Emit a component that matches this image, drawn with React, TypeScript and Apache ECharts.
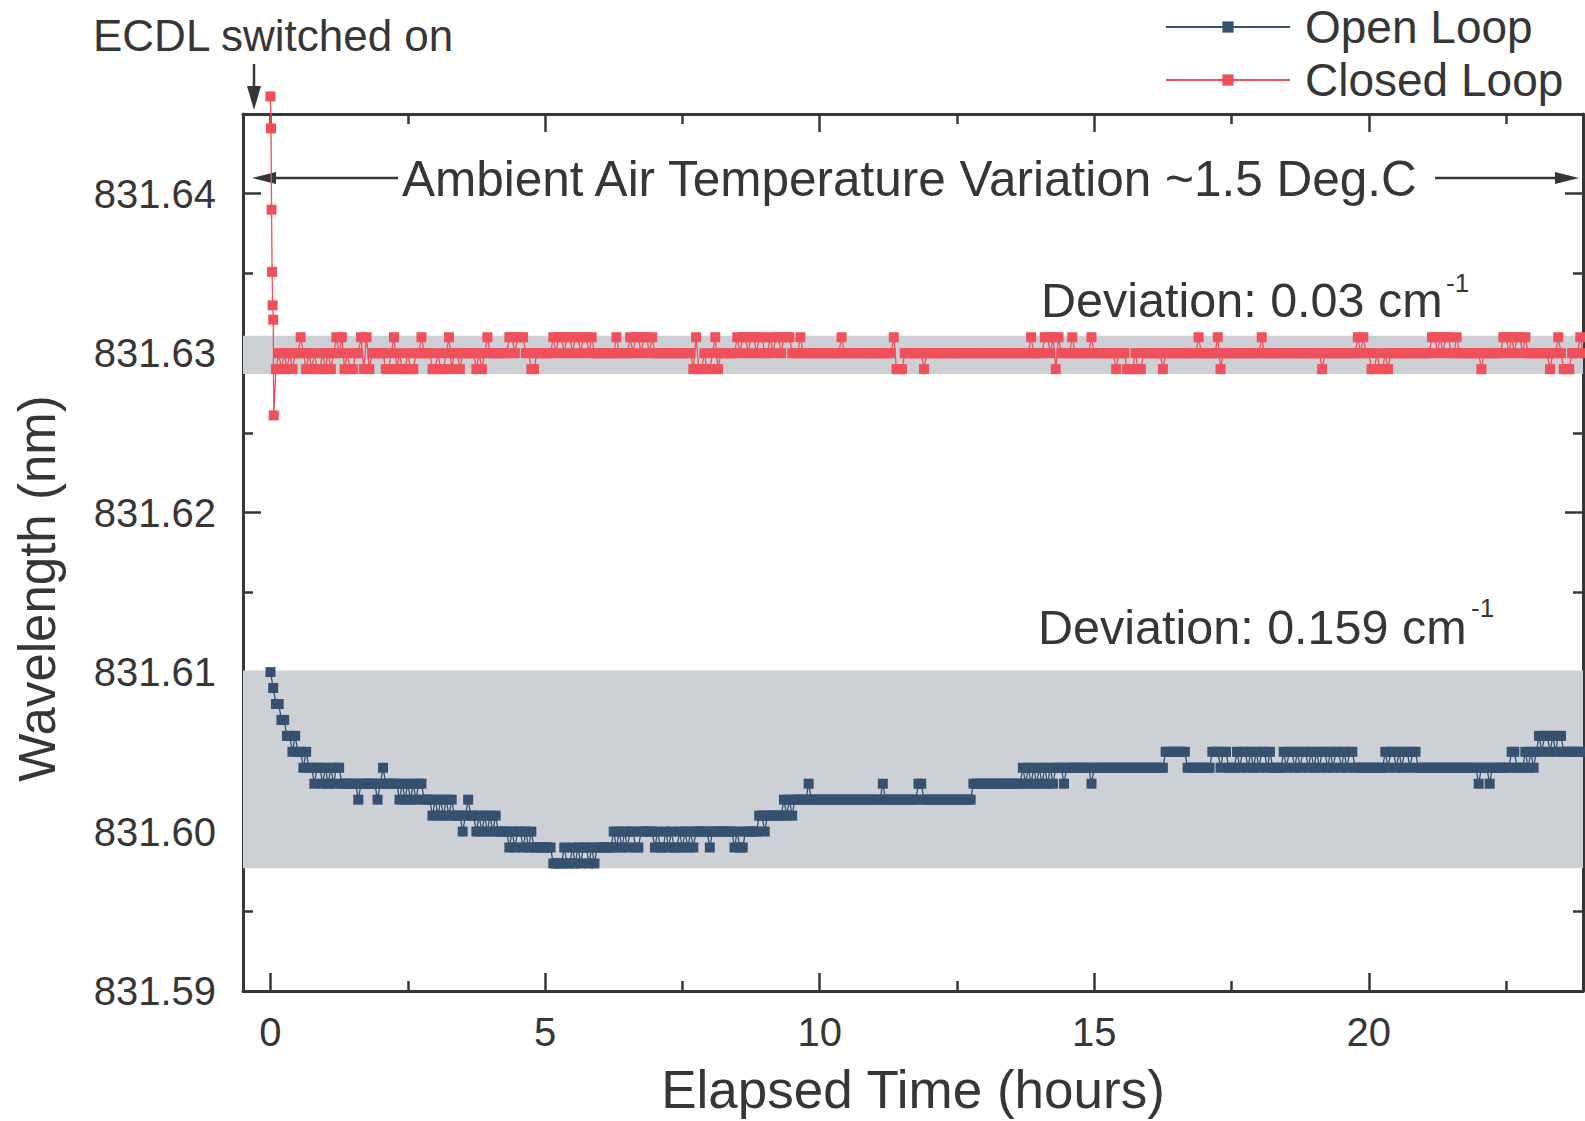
import React, { useEffect, useRef } from "react";
import * as echarts from "echarts";

// ---------- data ----------
const SAMPLE_STEP_H = 0.05; // one sample every 3 minutes
const X_MIN = -0.5;
const X_MAX = 23.9;
const Y_MIN = 831.59;
const Y_MAX = 831.645;

const xMajorTicks = [0, 5, 10, 15, 20];
const xMinorTicks = [2.5, 7.5, 12.5, 17.5, 22.5];
const yMajorTicks = [831.59, 831.6, 831.61, 831.62, 831.63, 831.64];
const yMinorTicks = [831.595, 831.605, 831.615, 831.625, 831.635];

// Open loop: one string per hour, one char per sample; hex digit = steps of 0.001 nm above 831.598
const OPEN_LOOP_BASE = 831.598;
const openLoopLevels = [
  "cbaa9988787767665665", // 0 h
  "65656655555545555554", // 1 h
  "56555554545454554443", // 2 h
  "43434343332343323232", // 3 h
  "32322221212212121111", // 4 h
  "11100001001010110101", // 5 h
  "11111212121221122222", // 6 h
  "12112121121212122222", // 7 h
  "12222222212112222233", // 8 h
  "23333334343444445444", // 9 h
  "44444444444444444444", // 10 h
  "44454444444444445544", // 11 h
  "44444444444444445555", // 12 h
  "55555555555555656565", // 13 h
  "65656566656666666665", // 14 h
  "66666666666666666666", // 15 h
  "66666677777777666666", // 16 h
  "66677767766676776767", // 17 h
  "67767666676776767767", // 18 h
  "67677676776767766666", // 19 h
  "66666676776767767766", // 20 h
  "66666666666666666666", // 21 h
  "56665666666677666767", // 22 h
  "6787887878877777777", // 23 h
];

// Closed loop: '0' = 831.630, '+' = 831.631, '-' = 831.629, '.' = no sample
const CLOSED_LOOP_BASE = 831.63;
const closedLoopTurnOn: [number, number][] = [
  [0.0, 831.6461],
  [0.01, 831.6441],
  [0.02, 831.639],
  [0.03, 831.6351],
  [0.04, 831.633],
  [0.05, 831.6321],
  [0.06, 831.6261],
];
const closedLoopLevels = [
  "..-0-0-0-00+0-0-0--0", // 0 h
  "-0-0+0+-0--00+-+-000", // 1 h
  "00--0+-0--0--00+000-", // 2 h
  "-0--0+-00-00000-0-0+", // 3 h
  "0000000++0+++00--000", // 4 h
  "000+0++0++0++0++0+00", // 5 h
  "000000+0000+0++0++0+", // 6 h
  "00000000000000-+--0-", // 7 h
  "-0+-000000+0++0++0++", // 8 h
  "00+0++0+++000+000000", // 9 h
  "00000000+00000000000", // 10 h
  "0000000+---0000000-0", // 11 h
  "00000000000000000000", // 12 h
  "00000000000000000+00", // 13 h
  "00++0+-+0000+000000+", // 14 h
  "00000000-000---0--00", // 15 h
  "00000-000000000000+0", // 16 h
  "00000+-0000000000000", // 17 h
  "0+000000000000000000", // 18 h
  "000-000000000000+0+0", // 19 h
  "0--0--0-000000000000", // 20 h
  "000++0+0++00+0000000", // 21 h
  "0-0000000++0+0++0+00", // 22 h
  "000000-00+0---000+0", // 23 h
];

const openBand = [831.5977, 831.6101];
const closedBand = [831.6287, 831.6311];

// ---------- decode ----------
function decode(rows: string[], base: number, level: (c: string) => number): [number, number][] {
  const out: [number, number][] = [];
  rows.forEach((row, h) => {
    for (let i = 0; i < row.length; i++) {
      const c = row[i];
      if (c === ".") continue;
      const t = +(h + i * SAMPLE_STEP_H).toFixed(2);
      out.push([t, +(base + level(c) * 0.001).toFixed(4)]);
    }
  });
  return out;
}
const openLoopData = decode(openLoopLevels, OPEN_LOOP_BASE, (c) => parseInt(c, 16));
const closedLoopData = [
  ...closedLoopTurnOn,
  ...decode(closedLoopLevels, CLOSED_LOOP_BASE, (c) => (c === "+" ? 1 : c === "-" ? -1 : 0)),
];

// ---------- style ----------
const FONT = "'Liberation Sans', Arial, sans-serif";
const INK = "#363636";
const BLUE = "#36506f";
const RED = "#f0505c";
const BAND = "#cdd1d5";

function frameAxis(position: string, ticks: number[], len: number, showLine: boolean, extra: any = {}) {
  return {
    type: "value",
    position,
    axisLine: { show: showLine, onZero: false, lineStyle: { color: INK, width: 3 } },
    axisTick: { show: true, inside: true, length: len, customValues: ticks, lineStyle: { color: INK, width: 2.5 } },
    axisLabel: { show: false },
    splitLine: { show: false },
    ...extra,
  };
}

export default function App() {
  const ref = useRef<HTMLDivElement>(null);
  useEffect(() => {
    const chart = echarts.init(ref.current!, undefined, { renderer: "svg" });
    const xr = { min: X_MIN, max: X_MAX };
    const yr = { min: Y_MIN, max: Y_MAX };
    chart.setOption({
      animation: false,
      backgroundColor: "#ffffff",
      textStyle: { fontFamily: FONT },
      grid: { left: 243, right: 2, top: 114, bottom: 125, containLabel: false },
      legend: {
        data: ["Open Loop", "Closed Loop"],
        orient: "vertical",
        left: 1165,
        top: 4,
        padding: 0,
        itemGap: 7,
        itemWidth: 124,
        itemHeight: 14,
        textStyle: { fontSize: 46, lineHeight: 46, color: INK, fontFamily: FONT, padding: [0, 0, 0, 10] },
      },
      xAxis: [
        {
          ...frameAxis("bottom", xMajorTicks, 18, true),
          ...xr,
          axisLabel: {
            show: true,
            customValues: xMajorTicks,
            fontSize: 40,
            color: INK,
            fontFamily: FONT,
            margin: 21,
          },
          name: "Elapsed Time (hours)",
          nameLocation: "middle",
          nameGap: 72,
          nameTextStyle: { fontSize: 53, color: INK, fontFamily: FONT },
        },
        { ...frameAxis("bottom", xMinorTicks, 10, false), ...xr },
        { ...frameAxis("top", xMajorTicks, 18, true), ...xr },
        { ...frameAxis("top", xMinorTicks, 10, false), ...xr },
      ],
      yAxis: [
        {
          ...frameAxis("left", yMajorTicks, 18, true),
          ...yr,
          axisLabel: {
            show: true,
            customValues: yMajorTicks,
            formatter: (v: number) => v.toFixed(2),
            fontSize: 40,
            color: INK,
            fontFamily: FONT,
            margin: 27,
          },
          name: "Wavelength (nm)",
          nameLocation: "middle",
          nameGap: 180,
          nameRotate: 90,
          nameTextStyle: { fontSize: 51, color: INK, fontFamily: FONT, padding: [0, 72, 0, 0] },
        },
        { ...frameAxis("left", yMinorTicks, 10, false), ...yr },
        { ...frameAxis("right", yMajorTicks, 18, true), ...yr },
        { ...frameAxis("right", yMinorTicks, 10, false), ...yr },
      ],
      series: [
        {
          name: "bands",
          type: "line",
          data: [],
          z: 1,
          silent: true,
          markArea: {
            silent: true,
            itemStyle: { color: BAND },
            data: [
              [{ yAxis: openBand[0] }, { yAxis: openBand[1] }],
              [{ yAxis: closedBand[0] }, { yAxis: closedBand[1] }],
            ],
          },
        },
        {
          name: "Open Loop",
          type: "line",
          data: openLoopData,
          z: 3,
          color: BLUE,
          symbol: "rect",
          symbolSize: 10,
          showAllSymbol: true,
          lineStyle: { color: BLUE, width: 1.3 },
          itemStyle: { color: BLUE },
        },
        {
          name: "Closed Loop",
          type: "line",
          data: closedLoopData,
          z: 3,
          clip: false,
          color: RED,
          symbol: "rect",
          symbolSize: 10,
          showAllSymbol: true,
          lineStyle: { color: RED, width: 1.3 },
          itemStyle: { color: RED },
        },
      ],
      graphic: [
        {
          type: "text",
          left: 93,
          top: 13,
          style: { text: "ECDL switched on", fontSize: 44, fill: INK, fontFamily: FONT },
        },
        {
          type: "line",
          shape: { x1: 254, y1: 64, x2: 254, y2: 90 },
          style: { stroke: INK, lineWidth: 2.5 },
        },
        {
          type: "polygon",
          shape: { points: [[247, 86], [261, 86], [254, 110]] },
          style: { fill: INK },
        },
        {
          type: "text",
          x: 402,
          y: 178,
          style: {
            text: "Ambient Air Temperature Variation ~1.5 Deg.C",
            fontSize: 49.5,
            fill: INK,
            fontFamily: FONT,
            textVerticalAlign: "middle",
          },
        },
        {
          type: "line",
          shape: { x1: 270, y1: 178, x2: 398, y2: 178 },
          style: { stroke: INK, lineWidth: 2.5 },
        },
        {
          type: "polygon",
          shape: { points: [[252, 178], [276, 172], [276, 184]] },
          style: { fill: INK },
        },
        {
          type: "line",
          shape: { x1: 1435, y1: 178, x2: 1560, y2: 178 },
          style: { stroke: INK, lineWidth: 2.5 },
        },
        {
          type: "polygon",
          shape: { points: [[1579, 178], [1555, 172], [1555, 184]] },
          style: { fill: INK },
        },
        {
          type: "text",
          x: 1041,
          y: 300,
          style: { text: "Deviation: 0.03 cm", fontSize: 48.5, fill: INK, fontFamily: FONT, textVerticalAlign: "middle" },
        },
        {
          type: "text",
          x: 1446,
          y: 283,
          style: { text: "-1", fontSize: 26, fill: INK, fontFamily: FONT, textVerticalAlign: "middle" },
        },
        {
          type: "text",
          x: 1038,
          y: 627,
          style: { text: "Deviation: 0.159 cm", fontSize: 48.5, fill: INK, fontFamily: FONT, textVerticalAlign: "middle" },
        },
        {
          type: "text",
          x: 1471,
          y: 608,
          style: { text: "-1", fontSize: 26, fill: INK, fontFamily: FONT, textVerticalAlign: "middle" },
        },
      ],
    });
    return () => chart.dispose();
  }, []);
  return (
    <div
      ref={ref}
      style={{ position: "fixed", left: 0, top: 0, width: 1585, height: 1121, background: "#fff" }}
    />
  );
}
